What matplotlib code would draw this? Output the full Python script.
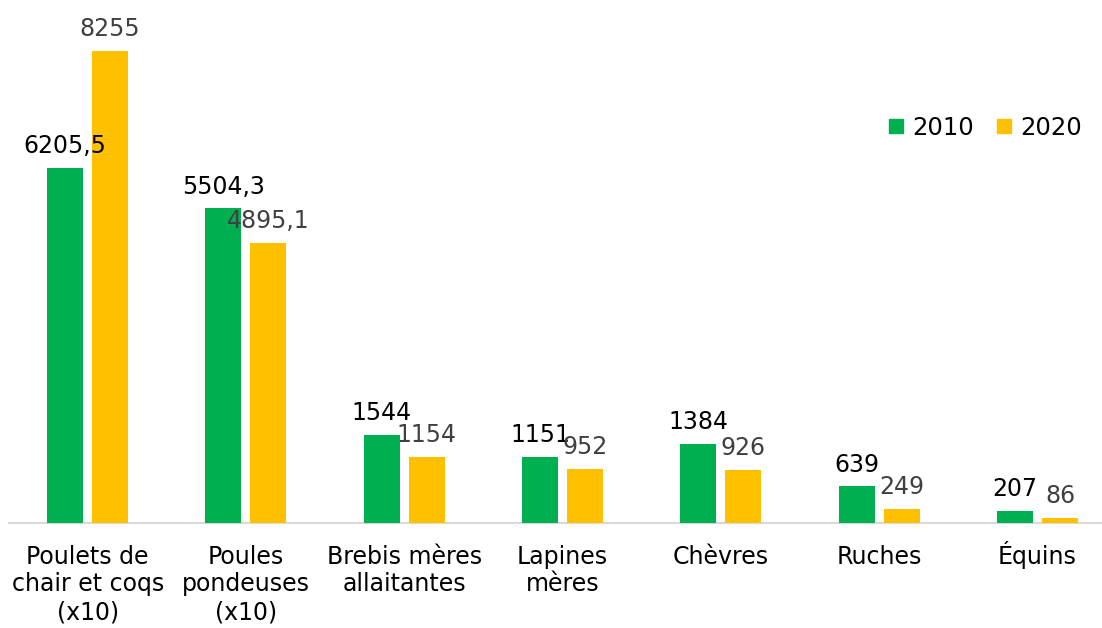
import matplotlib
matplotlib.use("Agg")
import matplotlib.pyplot as plt
import matplotlib.transforms as mtransforms
import numpy as np
from matplotlib.lines import Line2D

categories = ["Poulets de\nchair et coqs\n(x10)", "Poules\npondeuses\n(x10)",
              "Brebis mères\nallaitantes", "Lapines\nmères", "Chèvres", "Ruches", "Équins"]
values_2010 = [6205.5, 5504.3, 1544, 1151, 1384, 639, 207]
values_2020 = [8255, 4895.1, 1154, 952, 926, 249, 86]
labels_2010 = ["6205,5", "5504,3", "1544", "1151", "1384", "639", "207"]
labels_2020 = ["8255", "4895,1", "1154", "952", "926", "249", "86"]

GREEN = "#00B050"
YELLOW = "#FFC000"
FS = 17

plt.rcParams["font.family"] = ["DejaVu Sans"]

W, H = 1102, 628
fig = plt.figure(figsize=(W / 100, H / 100), dpi=100)

# axes in pixel terms: left 8.5, baseline at y=523, top at y=10
cat_w = 158.3
left_px = 8.5
ax = fig.add_axes([left_px / W, (H - 523) / H, (W - left_px) / W, (523 - 10) / H])

x = np.arange(len(categories))
bw = 36 / cat_w
off = 22.5 / cat_w
ymax = 8255 * (523 - 10) / 472

b1 = ax.bar(x - off, values_2010, bw, color=GREEN, label="2010", zorder=3)
b2 = ax.bar(x + off, values_2020, bw, color=YELLOW, label="2020", zorder=3)

for rect, lab in zip(b1, labels_2010):
    ax.annotate(lab, (rect.get_x() + rect.get_width() / 2, rect.get_height()),
                xytext=(0, 7), textcoords="offset points", ha="center", va="bottom",
                fontsize=FS, color="black", zorder=4)
for rect, lab in zip(b2, labels_2020):
    ax.annotate(lab, (rect.get_x() + rect.get_width() / 2, rect.get_height()),
                xytext=(0, 7), textcoords="offset points", ha="center", va="bottom",
                fontsize=FS, color="#404040", zorder=4)

ax.set_xlim(-0.5, -0.5 + (W - left_px) / cat_w)
ax.set_ylim(0, ymax)
ax.set_xticks(x)
ax.set_xticklabels(categories, fontsize=FS, color="black", linespacing=1.2)
ax.tick_params(axis="x", length=0, pad=15.5)
ax.set_yticks([])
for s in ["top", "right", "left"]:
    ax.spines[s].set_visible(False)
ax.spines["bottom"].set_color("#d9d9d9")
ax.spines["bottom"].set_linewidth(1.5)

# accent on É pushes the label down; lift it back to the common baseline
lbl = ax.get_xticklabels()[-1]
lbl.set_transform(lbl.get_transform() + mtransforms.ScaledTranslation(0, 4 / 100, fig.dpi_scale_trans))

handles = [Line2D([], [], marker="s", linestyle="none", markersize=9.5, color=GREEN),
           Line2D([], [], marker="s", linestyle="none", markersize=9.5, color=YELLOW)]
fig.legend(handles, ["2010", "2020"], loc="center right", bbox_to_anchor=(1092 / W, 1 - 128 / H),
           ncol=2, frameon=False, fontsize=FS + 0.5, handlelength=0.6, handletextpad=0.4,
           columnspacing=0.9, borderaxespad=0)

fig.savefig("out.png", dpi=100)
